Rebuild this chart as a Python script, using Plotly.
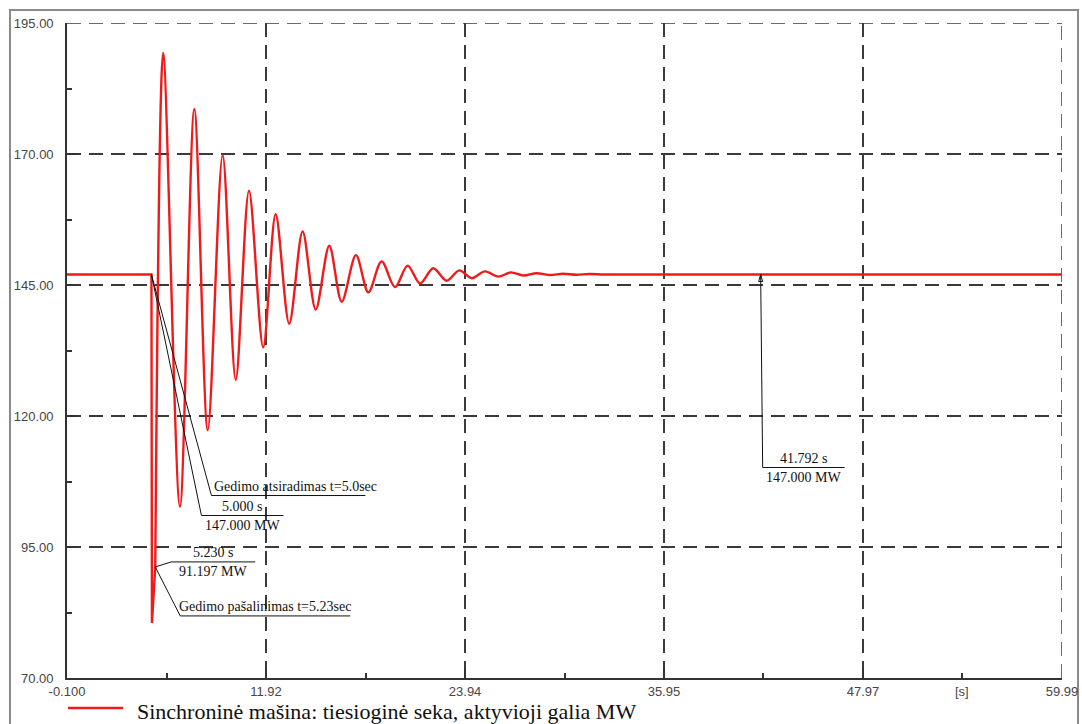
import plotly.graph_objects as go

# Active power of the synchronous machine (positive sequence), MW
# pre-fault level and the short-circuit interval
t_fault = [-0.1, 5.0, 5.03, 5.23]
p_fault = [147.0, 147.0, 80.5, 91.197]

# after fault clearing: swing extremes, then the settled level
t_swing = [5.23, 5.71, 6.72, 7.59, 8.40, 9.30, 10.09, 10.89, 11.75, 12.50,
           13.32, 14.13, 14.92, 15.74, 16.49, 17.35, 18.10, 18.90, 19.71,
           20.47, 21.22, 22.02, 22.83, 23.59, 24.34, 25.14, 25.94, 26.71,
           27.45, 28.26, 29.07, 29.85, 30.65, 31.45, 32.3, 33.1, 59.99]
p_swing = [91.197, 189.3, 102.7, 178.6, 117.3, 169.8, 126.9, 163.0, 133.1, 158.5,
           137.6, 155.2, 140.3, 152.5, 141.8, 150.7, 143.6, 149.5, 144.6,
           148.7, 145.3, 148.2, 145.8, 147.8, 146.3, 147.6, 146.6, 147.4,
           146.8, 147.25, 146.9, 147.15, 146.95, 147.1, 147.0, 147.0, 147.0]

x_tick_vals = [-0.1, 11.92, 23.94, 35.95, 47.97, 59.99]
x_tick_text = ["-0.100", "11.92", "23.94", "35.95", "47.97", "59.99"]
x_minor_vals = [5.91, 17.93, 29.945, 41.96, 53.98]
x_unit_label = "[s]"
y_tick_vals = [70, 95, 120, 145, 170, 195]
y_minor_vals = [82.5, 107.5, 132.5, 157.5, 182.5]

series_name = "Sinchroninė mašina: tiesioginė seka, aktyvioji galia MW"

# cursor read-outs placed on the curve
marker_t = [5.0, 5.23, 41.792]
marker_p = [147.0, 91.197, 147.0]
event_labels = ["Gedimo atsiradimas t=5.0sec", "Gedimo pašalinimas t=5.23sec"]

RED = "#f01a1a"
GRID_COLOR = "#3a3a3a"
GRID_DASH = "14px,8px"
TICK_FONT = dict(family="Liberation Sans, Arial", size=13, color="#4a4444")
NOTE_FONT = dict(family="Liberation Serif, Times New Roman", size=14, color="#111111")

fig = go.Figure()
fig.add_trace(go.Scatter(x=t_fault, y=p_fault, mode="lines", name=series_name,
                         line=dict(color=RED, width=2.4), showlegend=False))
fig.add_trace(go.Scatter(x=t_swing, y=p_swing, mode="lines", name=series_name,
                         line=dict(color=RED, width=2.4, shape="spline", smoothing=0.9),
                         showlegend=False))

grid = dict(showgrid=True, gridcolor=GRID_COLOR, gridwidth=1.5, griddash=GRID_DASH)
fig.update_xaxes(range=[-0.1, 59.99], tickmode="array", tickvals=x_tick_vals,
                 ticktext=x_tick_text, ticks="inside", ticklen=10, tickcolor="#333",
                 tickwidth=1.5, tickfont=TICK_FONT, showline=True, linecolor="#333",
                 linewidth=1.6, zeroline=False, ticklabelstandoff=1, automargin=False,
                 minor=dict(tickvals=x_minor_vals, ticks="inside", ticklen=5,
                            tickcolor="#333", showgrid=False),
                 **grid)
fig.update_yaxes(range=[70, 195], tickmode="array", tickvals=y_tick_vals,
                 tickformat=".2f", ticks="inside", ticklen=10, tickcolor="#333",
                 tickwidth=1.5, tickfont=TICK_FONT, showline=True, linecolor="#333",
                 linewidth=1.6, zeroline=False, ticklabelstandoff=9, automargin=False,
                 minor=dict(tickvals=y_minor_vals, ticks="inside", ticklen=5,
                            tickcolor="#333", showgrid=False),
                 **grid)

shapes = []
annos = []

# grid lines on the top and right borders of the plot area
shapes.append(dict(type="line", xref="x", yref="paper", x0=x_tick_vals[-1],
                   x1=x_tick_vals[-1], y0=0, y1=1, layer="below",
                   line=dict(color=GRID_COLOR, width=1.5, dash=GRID_DASH)))
shapes.append(dict(type="line", xref="paper", yref="y", x0=0, x1=1,
                   y0=y_tick_vals[-1], y1=y_tick_vals[-1], layer="below",
                   line=dict(color=GRID_COLOR, width=1.5, dash=GRID_DASH)))


def leader(t, p, pts):
    """Polyline in pixel offsets from the data point (x right, y up)."""
    path = "M0,0 " + " ".join(f"L{dx},{dy}" for dx, dy in pts)
    shapes.append(dict(type="path", xref="x", yref="y", xsizemode="pixel",
                       ysizemode="pixel", xanchor=t, yanchor=p, path=path,
                       line=dict(color="#111111", width=1)))


def note(t, p, text, dx, dy, xa, ya):
    annos.append(dict(x=t, y=p, xref="x", yref="y", text=text, showarrow=False,
                      xshift=dx, yshift=dy, xanchor=xa, yanchor=ya,
                      font=NOTE_FONT, borderpad=0))


def readout(t, p, pts, cx):
    leader(t, p, pts)
    y_line = pts[-1][1]
    note(t, p, f"{t:.3f} s", cx, y_line + 1, "center", "bottom")
    note(t, p, f"{p:.3f} MW", cx, y_line - 1, "center", "top")


# fault inception: event text and value read-out share the same point
leader(marker_t[0], marker_p[0], [(60, -221), (214, -221)])
note(marker_t[0], marker_p[0], event_labels[0], 62, -220, "left", "bottom")
readout(marker_t[0], marker_p[0], [(50, -241), (132, -241)], 91)

# fault clearing
readout(marker_t[1], marker_p[1], [(16, 5), (100, 5)], 58)
leader(marker_t[1], marker_p[1], [(25, -49), (195, -49)])
note(marker_t[1], marker_p[1], event_labels[1], 23, -48, "left", "bottom")

# settled value
readout(marker_t[2], marker_p[2], [(2, -193), (84, -193)], 43)
leader(marker_t[2], marker_p[2], [(-2, -7), (2, -7), (0, 0)])

# unit label on the time axis
annos.append(dict(x=53.98, y=0, xref="x", yref="paper", yanchor="top", yshift=-4,
                  text=x_unit_label, showarrow=False, font=TICK_FONT))

# outer frame
shapes.append(dict(type="rect", xref="paper", yref="paper", x0=-0.0573, x1=1.0161,
                   y0=-0.2, y1=1.0198, line=dict(color="#8a8a8a", width=2),
                   layer="below"))

# legend entry
shapes.append(dict(type="line", xref="paper", yref="paper", x0=0.001, x1=0.0563,
                   y0=-0.0458, y1=-0.0458, line=dict(color=RED, width=2.5)))
annos.append(dict(x=0.0683, y=-0.0515, xref="paper", yref="paper", text=series_name,
                  showarrow=False, xanchor="left", yanchor="middle",
                  font=dict(family="Liberation Serif, Times New Roman", size=22,
                            color="#111111")))

fig.update_layout(width=1082, height=724, margin=dict(l=67, r=20, t=23, b=46),
                  paper_bgcolor="white", plot_bgcolor="white",
                  shapes=shapes, annotations=annos, showlegend=False)

fig.write_html("out.html")
